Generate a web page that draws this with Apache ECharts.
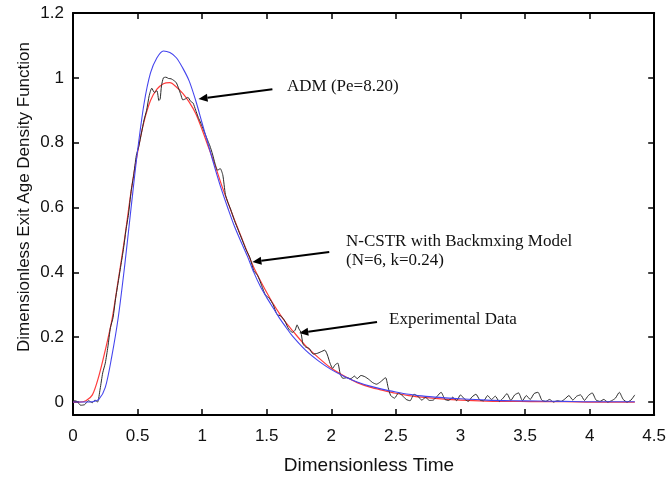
<!DOCTYPE html>
<html>
<head>
<meta charset="utf-8">
<script src="https://cdn.jsdelivr.net/npm/echarts@6/dist/echarts.min.js"></script>
<style>
  html, body { margin: 0; padding: 0; background: #fff; }
  #chart { width: 669px; height: 477px; }
</style>
</head>
<body>
<div id="chart"></div>
<script>
// --- data ---
const tModel = [0, 0.05, 0.1, 0.15, 0.2, 0.25, 0.3, 0.35, 0.4, 0.45, 0.5, 0.55, 0.6, 0.65, 0.7, 0.75, 0.8, 0.85, 0.9, 0.95,
  1.0, 1.05, 1.1, 1.15, 1.2, 1.25, 1.3, 1.35, 1.4, 1.45, 1.5, 1.55, 1.6, 1.65, 1.7, 1.8, 1.9, 2.0, 2.1, 2.2,
  2.3, 2.4, 2.5, 2.6, 2.7, 2.8, 3.0, 3.2, 3.4, 3.6, 3.8, 4.0, 4.2, 4.35];

// ADM (Pe=8.20), blue
const admValues = [0, 0, 0, 0.001, 0.008, 0.045, 0.14, 0.26, 0.42, 0.6, 0.775, 0.92, 1.015, 1.062, 1.083, 1.078, 1.062, 1.03, 0.99, 0.93,
  0.86, 0.79, 0.72, 0.655, 0.597, 0.542, 0.495, 0.45, 0.4, 0.357, 0.322, 0.29, 0.258, 0.23, 0.203, 0.16, 0.127, 0.1, 0.079, 0.062,
  0.049, 0.039, 0.031, 0.024, 0.019, 0.015, 0.01, 0.006, 0.004, 0.003, 0.002, 0.001, 0.001, 0.001];

// N-CSTR with backmixing (N=6, k=0.24), red
const cstrValues = [0, 0, 0.004, 0.022, 0.08, 0.16, 0.25, 0.375, 0.505, 0.65, 0.77, 0.865, 0.93, 0.965, 0.982, 0.985, 0.972, 0.952, 0.925, 0.89,
  0.84, 0.785, 0.73, 0.67, 0.615, 0.562, 0.512, 0.462, 0.415, 0.375, 0.338, 0.303, 0.272, 0.244, 0.22, 0.174, 0.137, 0.104, 0.08, 0.06,
  0.046, 0.036, 0.027, 0.02, 0.015, 0.011, 0.006, 0.003, 0.002, 0.001, 0.001, 0, 0, 0];

// experimental data, black
const expTime = [0, 0.03, 0.06, 0.09, 0.12, 0.15, 0.17, 0.19, 0.21, 0.23, 0.25, 0.27, 0.29, 0.31, 0.33, 0.35, 0.37, 0.39, 0.41, 0.43,
  0.45, 0.47, 0.49, 0.51, 0.53, 0.55, 0.57, 0.59, 0.61, 0.63, 0.65, 0.665, 0.675, 0.685, 0.7, 0.72, 0.74, 0.76, 0.78, 0.8,
  0.82, 0.835, 0.85, 0.87, 0.89, 0.91, 0.93, 0.95, 0.97, 0.99, 1.01, 1.03, 1.05, 1.06, 1.08, 1.1, 1.12, 1.14, 1.16, 1.18,
  1.2, 1.22, 1.25, 1.28, 1.31, 1.34, 1.37, 1.4, 1.43, 1.46, 1.49, 1.52, 1.55, 1.58, 1.61, 1.64, 1.67, 1.7, 1.72, 1.735,
  1.75, 1.765, 1.78, 1.8, 1.83, 1.86, 1.89, 1.92, 1.95, 1.97, 1.99, 2.01, 2.03, 2.05, 2.07, 2.09, 2.12, 2.15, 2.18, 2.2,
  2.23, 2.26, 2.29, 2.32, 2.35, 2.38, 2.42, 2.44, 2.46, 2.49, 2.52, 2.55, 2.58, 2.61, 2.64, 2.67, 2.7, 2.73, 2.76, 2.79,
  2.82, 2.85, 2.88, 2.91, 2.94, 2.97, 3.0, 3.03, 3.06, 3.09, 3.12, 3.15, 3.18, 3.21, 3.24, 3.27, 3.3, 3.33, 3.36, 3.39,
  3.42, 3.45, 3.48, 3.51, 3.54, 3.57, 3.6, 3.63, 3.66, 3.69, 3.72, 3.75, 3.78, 3.81, 3.84, 3.87, 3.9, 3.93, 3.96, 3.99,
  4.02, 4.05, 4.08, 4.11, 4.14, 4.17, 4.2, 4.23, 4.26, 4.29, 4.32, 4.35];
const expValues = [0.005, 0.002, -0.01, -0.008, 0.004, -0.002, 0.006, 0.0, 0.04, 0.09, 0.12, 0.17, 0.23, 0.26, 0.32, 0.37, 0.42, 0.47, 0.53, 0.58,
  0.65, 0.7, 0.76, 0.79, 0.83, 0.87, 0.9, 0.945, 0.968, 0.955, 0.96, 0.93, 0.935, 0.975, 1.0, 1.002, 0.998, 0.997, 0.992, 0.985,
  0.965, 0.948, 0.932, 0.935, 0.94, 0.928, 0.922, 0.9, 0.878, 0.86, 0.84, 0.82, 0.8, 0.79, 0.765, 0.735, 0.715, 0.72, 0.7, 0.64,
  0.615, 0.595, 0.56, 0.53, 0.5, 0.47, 0.445, 0.405, 0.39, 0.36, 0.33, 0.32, 0.3, 0.27, 0.265, 0.25, 0.225, 0.215, 0.222, 0.238,
  0.225, 0.215, 0.18, 0.17, 0.165, 0.148, 0.15, 0.155, 0.16, 0.145, 0.12, 0.104, 0.115, 0.12, 0.085, 0.073, 0.075, 0.072, 0.08, 0.072,
  0.082, 0.078, 0.07, 0.06, 0.055, 0.062, 0.075, 0.045, 0.02, 0.012, 0.028, 0.02, 0.008, 0.004, 0.024, 0.018, 0.006, 0.014, 0.005, 0.006,
  0.018, 0.03, 0.008, 0.005, 0.015, 0.004, 0.022, 0.01, 0.002, 0.016, 0.024, 0.006, 0.004, 0.02, 0.008, 0.018, 0.002, 0.012, 0.026, 0.005,
  0.022, 0.028, 0.004, 0.02, 0.008, 0.026, 0.03, 0.006, 0.002, 0.008, 0.0, 0.004, 0.002, 0.01, 0.02, 0.006, 0.018, 0.022, 0.005, 0.02,
  0.028, 0.006, 0.002, 0.008, 0.0, 0.004, 0.012, 0.03, 0.008, 0.0, 0.006, 0.022];

const xTicks = [0, 0.5, 1, 1.5, 2, 2.5, 3, 3.5, 4, 4.5];
const yTicks = [0, 0.2, 0.4, 0.6, 0.8, 1, 1.2];

// annotations: text + arrow [tail, tip] in data units
const notes = [
  { lines: ['ADM (Pe=8.20)'], textPos: [287, 87], tail: [1.544, 0.965], tip: [0.972, 0.935] },
  { lines: ['N-CSTR with Backmxing Model', '(N=6, k=0.24)'], textPos: [346, 242], tail: [1.984, 0.463], tip: [1.389, 0.432] },
  { lines: ['Experimental Data'], textPos: [389, 320], tail: [2.354, 0.247], tip: [1.752, 0.213] }
];

const chart = echarts.init(document.getElementById('chart'));

const pair = (xs, ys) => xs.map((x, i) => [x, ys[i]]);
const axisLine = { show: true, onZero: false, lineStyle: { color: '#000', width: 2 } };
const tickStyle = { color: '#000', width: 1.5 };
const labelFont = { color: '#111', fontSize: 17, fontFamily: 'Liberation Sans, Arial' };

const option = {
  animation: false,
  backgroundColor: '#fff',
  grid: { left: 73, right: 13, top: 13, bottom: 62, containLabel: false },
  xAxis: [
    {
      type: 'value', min: 0, max: 4.5, interval: 0.5, position: 'bottom',
      axisLine: axisLine,
      axisTick: { inside: true, length: 6, lineStyle: tickStyle },
      axisLabel: Object.assign({ margin: 13, formatter: v => xTicks.indexOf(v) >= 0 ? String(v) : '' }, labelFont),
      splitLine: { show: false }
    },
    {
      type: 'value', min: 0, max: 4.5, interval: 0.5, position: 'top',
      axisLine: axisLine,
      axisTick: { inside: true, length: 6, lineStyle: tickStyle },
      axisLabel: { show: false },
      splitLine: { show: false }
    }
  ],
  yAxis: [
    {
      type: 'value', min: -0.04, max: 1.2, position: 'left',
      axisLine: axisLine,
      axisTick: { inside: true, length: 6, lineStyle: tickStyle, customValues: yTicks },
      axisLabel: Object.assign({ margin: 9, customValues: yTicks, formatter: v => String(Math.round(v * 10) / 10) }, labelFont),
      splitLine: { show: false }
    },
    {
      type: 'value', min: -0.04, max: 1.2, position: 'right',
      axisLine: axisLine,
      axisTick: { inside: true, length: 6, lineStyle: tickStyle, customValues: yTicks },
      axisLabel: { show: false },
      splitLine: { show: false }
    }
  ],
  series: [
    {
      name: 'N-CSTR', type: 'line', data: pair(tModel, cstrValues), smooth: 0.3,
      showSymbol: false, lineStyle: { color: '#ff3b3b', width: 1.2 }, z: 2
    },
    {
      name: 'Experimental', type: 'line', data: pair(expTime, expValues), smooth: 0.2,
      showSymbol: false, lineStyle: { color: '#2a2a2a', width: 1 }, z: 3
    },
    {
      name: 'ADM', type: 'line', data: pair(tModel, admValues), smooth: 0.3,
      showSymbol: false, lineStyle: { color: '#4545ee', width: 1.1 }, z: 4
    }
  ]
};

chart.setOption(option);

// axis titles and annotations
function arrow(tail, tip) {
  const a = chart.convertToPixel({ gridIndex: 0 }, tail);
  const b = chart.convertToPixel({ gridIndex: 0 }, tip);
  const ang = Math.atan2(b[1] - a[1], b[0] - a[0]);
  const L = 9, W = 4;
  const bx = b[0] - L * Math.cos(ang), by = b[1] - L * Math.sin(ang);
  return [
    { type: 'line', shape: { x1: a[0], y1: a[1], x2: bx, y2: by }, style: { stroke: '#000', lineWidth: 2 } },
    { type: 'polygon', shape: { points: [
      [b[0], b[1]],
      [bx - W * Math.sin(ang), by + W * Math.cos(ang)],
      [bx + W * Math.sin(ang), by - W * Math.cos(ang)]
    ] }, style: { fill: '#000' } }
  ];
}

const elements = [
  { type: 'text', x: 369, y: 466, style: { text: 'Dimensionless Time', font: '19px "Liberation Sans", Arial', fill: '#111', textAlign: 'center', textVerticalAlign: 'middle' } },
  { type: 'text', x: 24, y: 197, rotation: Math.PI / 2, style: { text: 'Dimensionless Exit Age Density Function', font: '17px "Liberation Sans", Arial', fill: '#111', textAlign: 'center', textVerticalAlign: 'middle' } }
];
notes.forEach(n => {
  n.lines.forEach((line, i) => {
    elements.push({ type: 'text', x: n.textPos[0], y: n.textPos[1] + i * 19,
      style: { text: line, font: '17px "Liberation Serif", "Times New Roman", serif', fill: '#111', textVerticalAlign: 'middle' } });
  });
  arrow(n.tail, n.tip).forEach(e => elements.push(e));
});
chart.setOption({ graphic: { elements: elements } });
</script>
</body>
</html>
